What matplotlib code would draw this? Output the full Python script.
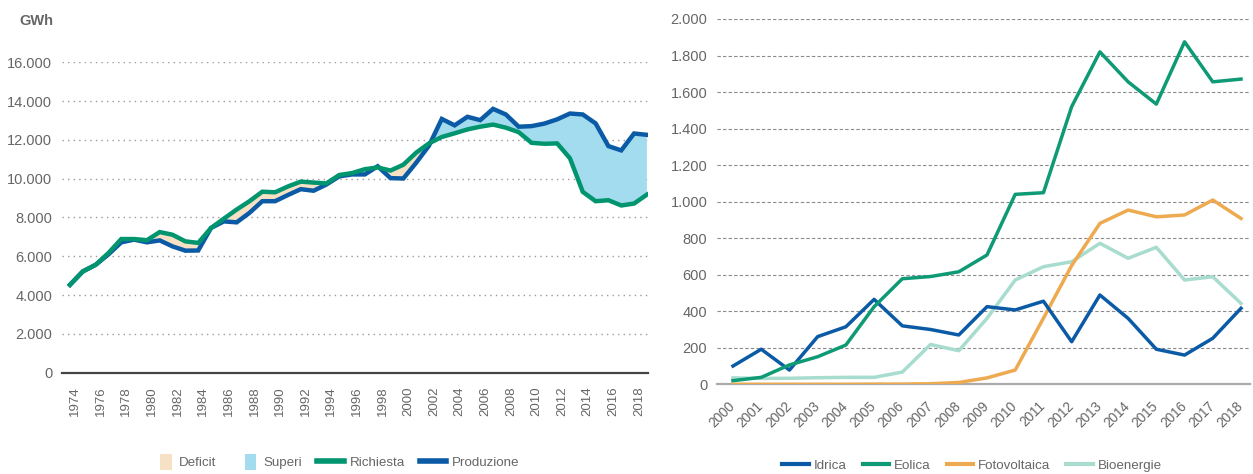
import matplotlib
matplotlib.use("Agg")
import matplotlib.pyplot as plt
import matplotlib.transforms as mtransforms
from matplotlib.patches import Patch, Rectangle
from matplotlib.lines import Line2D
from matplotlib.legend_handler import HandlerPatch
from matplotlib.ticker import FuncFormatter
import numpy as np

plt.rcParams['font.family'] = ['Liberation Sans', 'DejaVu Sans']

# ---------------- Left chart data (GWh) ----------------
years_left = list(range(1974, 2020))
richiesta = [4530, 5220, 5560, 6170, 6890, 6890, 6830, 7250, 7110, 6770,
             6690, 7460, 7940, 8410, 8840, 9330, 9300, 9600, 9850, 9800,
             9760, 10190, 10290, 10490, 10580, 10420, 10720, 11340, 11820, 12150,
             12340, 12540, 12680, 12790, 12630, 12400, 11850, 11800, 11820, 11050,
             9320, 8840, 8890, 8620, 8720, 9180]
produzione = [4530, 5220, 5560, 6100, 6720, 6860, 6720, 6820, 6510, 6290,
              6300, 7460, 7800, 7750, 8240, 8840, 8840, 9160, 9460, 9380,
              9700, 10120, 10220, 10220, 10640, 10030, 10010, 10820, 11700, 13080,
              12750, 13190, 13020, 13600, 13310, 12680, 12710, 12840, 13060, 13360,
              13310, 12850, 11680, 11460, 12330, 12260]
left_ticks = list(range(1974, 2019, 2))
left_yticks = [0, 2000, 4000, 6000, 8000, 10000, 12000, 14000, 16000]

# ---------------- Right chart data ----------------
years_right = list(range(2000, 2019))
idrica = [100, 192, 78, 261, 315, 465, 320, 300, 270, 425, 407, 455, 233, 489, 361, 192, 160, 252, 416]
eolica = [20, 38, 106, 151, 215, 425, 578, 590, 616, 708, 1040, 1049, 1520, 1820, 1656, 1534, 1875, 1656, 1671]
fotovoltaica = [0, 0, 0, 0, 0, 1, 1, 3, 10, 35, 78, 362, 650, 881, 954, 917, 927, 1009, 908]
bioenergie = [35, 32, 33, 36, 38, 38, 67, 218, 184, 361, 571, 644, 671, 772, 690, 750, 571, 589, 443]
right_yticks = list(range(0, 2001, 200))

# ---------------- Style ----------------
C_RICH = '#00956f'
C_PROD = '#0b5aa6'
C_DEF = '#f6e1c5'
C_SUP = '#a3dcef'
C_IDR = '#0b5aa6'
C_EOL = '#0f9a76'
C_FOT = '#eeaa50'
C_BIO = '#a7dccf'
TXT = '#666666'

W, H = 1253, 474
fig = plt.figure(figsize=(W / 100, H / 100), dpi=100)

def fmt_it(v, pos=None):
    return f"{int(round(v)):,}".replace(",", ".")


class SquareHandler(HandlerPatch):
    def create_artists(self, legend, orig_handle, xdescent, ydescent, width, height, fontsize, trans):
        w = height * 1.25
        p = Rectangle((-xdescent + width - w - 1, -ydescent - 3), w, height + 5,
                      facecolor=orig_handle.get_facecolor(), edgecolor='none', transform=trans)
        return [p]

# ---------------- Left axes ----------------
l0, r0, top0, bot0 = 62, 648, 62.3, 372.7
axL = fig.add_axes([l0 / W, 1 - bot0 / H, (r0 - l0) / W, (bot0 - top0) / H])
yl = np.array(years_left, dtype=float)
rl = np.array(richiesta, dtype=float)
pl = np.array(produzione, dtype=float)
axL.fill_between(yl, rl, pl, where=rl >= pl, interpolate=True, color=C_DEF, lw=0, zorder=2)
axL.fill_between(yl, rl, pl, where=pl >= rl, interpolate=True, color=C_SUP, lw=0, zorder=2)
axL.plot(yl, pl, color=C_PROD, lw=3.2, zorder=3, solid_joinstyle='miter')
axL.plot(yl, rl, color=C_RICH, lw=3.2, zorder=4, solid_joinstyle='miter')
axL.set_xlim(1974 - 8 / 12.82, 2019 + 1.1 / 12.82)
axL.set_ylim(0, 16000)
axL.set_yticks(left_yticks)
axL.yaxis.set_major_formatter(FuncFormatter(fmt_it))
axL.set_xticks(left_ticks)
axL.set_xticklabels([str(y) for y in left_ticks], rotation=90, fontsize=9.5, color=TXT)
axL.tick_params(axis='x', length=0, pad=10)
axL.tick_params(axis='y', length=0, pad=7, labelsize=10.5, labelcolor=TXT)
offset = mtransforms.ScaledTranslation(5 / 100, 0, fig.dpi_scale_trans)
for lab in axL.get_xticklabels():
    lab.set_transform(lab.get_transform() + offset)
axL.grid(axis='y', color='#9a9a9a', linestyle=(0, (1, 3)), lw=1.0, zorder=1)
for s in ['top', 'right', 'left']:
    axL.spines[s].set_visible(False)
axL.spines['bottom'].set_color('#444444')
axL.spines['bottom'].set_linewidth(1.6)
axL.spines['bottom'].set_zorder(5)
axL.set_axisbelow(True)
fig.text(53 / W, 1 - 21 / H, 'GWh', ha='right', va='center', fontsize=10.5,
         fontweight='bold', color=TXT)

handlesL = [Patch(facecolor=C_DEF, edgecolor='none', label='Deficit'),
            Patch(facecolor=C_SUP, edgecolor='none', label='Superi'),
            Line2D([], [], color=C_RICH, lw=4, label='Richiesta'),
            Line2D([], [], color=C_PROD, lw=4, label='Produzione')]
legL = fig.legend(handles=handlesL, loc='center', bbox_to_anchor=(333 / W, 1 - 463 / H),
                  ncol=4, frameon=False, fontsize=9.6, handlelength=2.0,
                  columnspacing=1.1, handletextpad=0.45,
                  handler_map={Patch: SquareHandler()})
for t in legL.get_texts():
    t.set_color(TXT)

# ---------------- Right axes ----------------
l1, r1, top1, bot1 = 717, 1250, 19.0, 384.3
axR = fig.add_axes([l1 / W, 1 - bot1 / H, (r1 - l1) / W, (bot1 - top1) / H])
yr = np.array(years_right, dtype=float)
axR.plot(yr, bioenergie, color=C_BIO, lw=2.5, zorder=3)
axR.plot(yr, fotovoltaica, color=C_FOT, lw=2.5, zorder=3)
axR.plot(yr, idrica, color=C_IDR, lw=2.5, zorder=4)
axR.plot(yr, eolica, color=C_EOL, lw=2.5, zorder=4)
axR.set_xlim(2000 - 16 / 28.22, 2018 + 9 / 28.22)
axR.set_ylim(0, 2000)
axR.set_yticks(right_yticks)
axR.yaxis.set_major_formatter(FuncFormatter(fmt_it))
axR.set_xticks(years_right)
axR.set_xticklabels([str(y) for y in years_right], rotation=45, ha='right', va='center',
                    rotation_mode='anchor', fontsize=9.8, color=TXT)
axR.tick_params(axis='x', length=0, pad=14)
axR.tick_params(axis='y', length=0, pad=7, labelsize=10.5, labelcolor=TXT)
axR.grid(axis='y', color='#8a8a8a', linestyle=(0, (3, 2)), lw=0.8, zorder=1)
for s in ['top', 'right', 'left']:
    axR.spines[s].set_visible(False)
axR.spines['bottom'].set_color('#aaaaaa')
axR.spines['bottom'].set_linewidth(1.6)
axR.set_axisbelow(True)

handlesR = [Line2D([], [], color=C_IDR, lw=3, label='Idrica'),
            Line2D([], [], color=C_EOL, lw=3, label='Eolica'),
            Line2D([], [], color=C_FOT, lw=3, label='Fotovoltaica'),
            Line2D([], [], color=C_BIO, lw=3, label='Bioenergie')]
legR = fig.legend(handles=handlesR, loc='center', bbox_to_anchor=(972 / W, 1 - 466 / H),
                  ncol=4, frameon=False, fontsize=9.6, handlelength=2.0,
                  columnspacing=1.2, handletextpad=0.35)
for t in legR.get_texts():
    t.set_color(TXT)

fig.savefig('out.png', dpi=100, facecolor='white')
